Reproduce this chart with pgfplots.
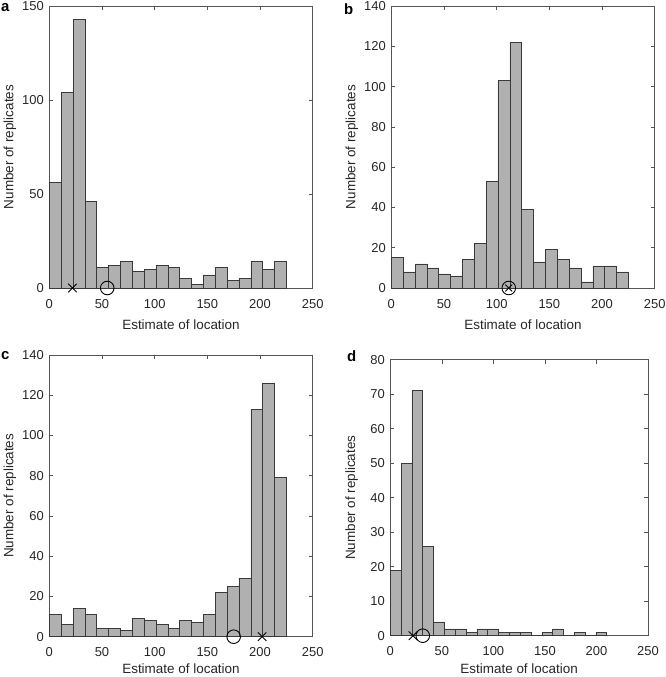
\documentclass[border=0pt]{standalone}
\usepackage{fontspec}
\setmainfont{Liberation Sans}
\usepackage{pgfplots}
\pgfplotsset{compat=1.18}
\definecolor{barfill}{HTML}{B0B0B0}
\definecolor{bardraw}{HTML}{3A3A3A}
\definecolor{axcol}{HTML}{555555}
\definecolor{txtcol}{HTML}{262626}
\pgfplotsset{hist/.style={
  scale only axis, xmin=0, xmax=250, ymin=0,
  xtick={0,50,...,250},
  tick align=inside, major tick length=4bp,
  axis line style={draw=axcol, line width=0.6bp},
  every tick/.style={draw=axcol, line width=0.6bp},
  /pgf/number format/assume math mode=true,
  tick label style={font=\fontsize{13}{13}\selectfont, text=txtcol},
  yticklabel style={xshift=-2bp},
  label style={font=\fontsize{13.5}{14}\selectfont, text=txtcol},
  xlabel={Estimate of location},
  ylabel={Number of replicates},
  ylabel style={at={(axis description cs:-0.15,0.5)}, anchor=center, rotate=0},
  clip=false,
  axis background/.style={fill=white},
}}
\tikzset{bars/.style={ybar interval, fill=barfill, draw=bardraw, line width=0.6bp},
  mk/.style={only marks, black, line width=0.9bp}}
\begin{document}
\begin{tikzpicture}
\useasboundingbox (0,0) rectangle (666bp,677bp);
% panel a
\begin{axis}[hist, at={(49.3bp,389bp)}, anchor=south west,
  width=263.4bp, height=282bp, ymax=150, ytick={0,50,100,150},
  xticklabel style={yshift=-8bp},
  xlabel style={at={(axis description cs:0.5,0)}, anchor=center, yshift=-37bp}]
\addplot[bars] coordinates {(0,56) (11.25,104) (22.5,143) (33.75,46) (45,11) (56.25,12) (67.5,14) (78.75,9) (90,10) (101.25,12) (112.5,11) (123.75,5) (135,2) (146.25,7) (157.5,11) (168.75,4) (180,5) (191.25,14) (202.5,10) (213.75,14) (225,14)};
\addplot[mk, mark=x, mark size=6bp] coordinates {(22,0)};
\addplot[mk, mark=o, mark size=6.8bp] coordinates {(55,0)};
\end{axis}
% panel b
\begin{axis}[hist, at={(391.3bp,389bp)}, anchor=south west,
  width=263.4bp, height=282bp, ymax=140, ytick={0,20,...,140},
  xticklabel style={yshift=-8bp},
  xlabel style={at={(axis description cs:0.5,0)}, anchor=center, yshift=-37bp}]
\addplot[bars] coordinates {(0,15) (11.25,8) (22.5,12) (33.75,10) (45,7) (56.25,6) (67.5,14) (78.75,22) (90,53) (101.25,103) (112.5,122) (123.75,39) (135,13) (146.25,19) (157.5,14) (168.75,10) (180,3) (191.25,11) (202.5,11) (213.75,8) (225,8)};
\addplot[mk, mark=o, mark size=6.8bp] coordinates {(111.5,0)};
\addplot[mk, mark=x, mark size=4.8bp] coordinates {(111.5,0)};
\end{axis}
% panel c
\begin{axis}[hist, at={(49.3bp,40.3bp)}, anchor=south west,
  width=263.4bp, height=281.7bp, ymax=140, ytick={0,20,...,140},
  xticklabel style={yshift=-7bp},
  xlabel style={at={(axis description cs:0.5,0)}, anchor=center, yshift=-32bp}]
\addplot[bars] coordinates {(0,11) (11.25,6) (22.5,14) (33.75,11) (45,4) (56.25,4) (67.5,3) (78.75,9) (90,8) (101.25,6) (112.5,4) (123.75,8) (135,7) (146.25,11) (157.5,22) (168.75,25) (180,29) (191.25,113) (202.5,126) (213.75,79) (225,79)};
\addplot[mk, mark=o, mark size=6.8bp] coordinates {(175,0)};
\addplot[mk, mark=x, mark size=6bp] coordinates {(202,0)};
\end{axis}
% panel d
\begin{axis}[hist, at={(390.3bp,41.3bp)}, anchor=south west,
  width=257.7bp, height=276bp, ymax=80, ytick={0,10,...,80},
  xticklabel style={yshift=-7bp},
  xlabel style={at={(axis description cs:0.5,0)}, anchor=center, yshift=-33bp}]
\addplot[bars] coordinates {(0,19) (10.5,50) (21,71) (31.5,26) (42,4) (52.5,2) (63,2) (73.5,1) (84,2) (94.5,2) (105,1) (115.5,1) (126,1) (136.5,0) (147,1) (157.5,2) (168,0) (178.5,1) (189,0) (199.5,1) (210,1)};
\addplot[mk, mark=x, mark size=6bp] coordinates {(22,0)};
\addplot[mk, mark=o, mark size=6.8bp] coordinates {(31.5,0)};
\end{axis}
\node[anchor=north west, inner sep=0pt, font=\bfseries\fontsize{15}{15}\selectfont, text=black] at (1bp,674bp) {a};
\node[anchor=north west, inner sep=0pt, font=\bfseries\fontsize{15}{15}\selectfont, text=black] at (344bp,674bp) {b};
\node[anchor=north west, inner sep=0pt, font=\bfseries\fontsize{15}{15}\selectfont, text=black] at (1bp,326bp) {c};
\node[anchor=north west, inner sep=0pt, font=\bfseries\fontsize{15}{15}\selectfont, text=black] at (347bp,327bp) {d};
\end{tikzpicture}
\end{document}
